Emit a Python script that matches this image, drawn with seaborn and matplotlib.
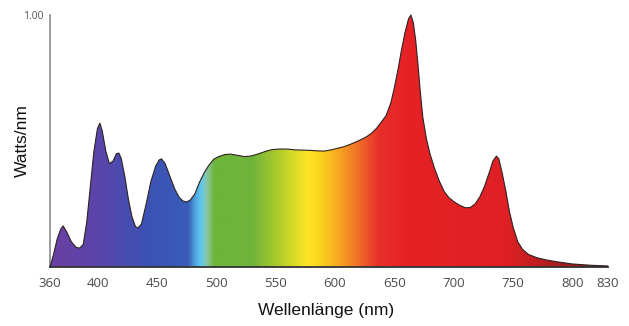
import numpy as np
import pandas as pd
import matplotlib
matplotlib.use("Agg")
import matplotlib.pyplot as plt
import seaborn as sns
from matplotlib.colors import LinearSegmentedColormap

# Relative spectral power of the lamp (normalised to the 664 nm peak)
wavelength_nm = [360, 363, 366, 369, 371, 374, 378, 382, 385, 388, 391, 394, 397, 400,
                 402, 404, 407, 410, 413, 416, 418, 420, 423, 426, 429, 432, 434, 437,
                 441, 445, 449, 452, 454, 457, 461, 465, 469, 472, 475, 478, 482, 486,
                 490, 494, 498, 502, 507, 512, 518, 524, 529, 535, 541, 547, 553, 560,
                 566, 572, 578, 585, 591, 597, 603, 608, 613, 618, 623, 627, 631, 635,
                 639, 643, 647, 650, 653, 656, 659, 662, 664, 666, 668, 670, 672, 674,
                 677, 680, 684, 688, 692, 696, 700, 705, 710, 714, 718, 722, 726, 730,
                 733, 736, 738, 741, 744, 747, 750, 754, 758, 763, 770, 778, 788, 800,
                 815, 830]
power = [0.0, 0.05, 0.11, 0.15, 0.163, 0.14, 0.10, 0.078, 0.075, 0.09, 0.18, 0.32, 0.46, 0.55,
         0.571, 0.54, 0.46, 0.41, 0.42, 0.45, 0.452, 0.43, 0.36, 0.27, 0.20, 0.16, 0.155, 0.17,
         0.25, 0.34, 0.40, 0.425, 0.429, 0.41, 0.36, 0.31, 0.275, 0.262, 0.258, 0.265, 0.29, 0.337,
         0.375, 0.405, 0.428, 0.438, 0.446, 0.448, 0.443, 0.438, 0.44, 0.448, 0.458, 0.466, 0.468, 0.468,
         0.465, 0.464, 0.463, 0.461, 0.460, 0.465, 0.472, 0.478, 0.487, 0.497, 0.508, 0.518, 0.532, 0.55,
         0.575, 0.60, 0.65, 0.71, 0.78, 0.86, 0.93, 0.985, 1.0, 0.97, 0.90, 0.80, 0.69, 0.595,
         0.51, 0.45, 0.39, 0.34, 0.30, 0.275, 0.26, 0.245, 0.235, 0.236, 0.25, 0.278, 0.32, 0.375,
         0.42, 0.44, 0.43, 0.37, 0.30, 0.22, 0.16, 0.10, 0.07, 0.05, 0.037, 0.028, 0.02, 0.012,
         0.007, 0.004]

x_ticks = [360, 400, 450, 500, 550, 600, 650, 700, 750, 800, 830]
y_ticks = [1.0]
y_tick_labels = ["1.00"]

# Colour of visible light along the wavelength axis
spectrum_nm = [360, 400, 440, 476, 482, 487, 492, 498, 530, 550, 565, 577, 586, 604,
               620, 637, 660, 745, 790, 830]
spectrum_colors = ["#6b3fa3", "#5a44aa", "#3d52b4", "#3a5cb8", "#4fa8e0", "#62c8ef",
                   "#8cc6a0", "#6cb43a", "#6fb43a", "#a8c82d", "#d6da25", "#ffe526",
                   "#fbd71e", "#f7a520", "#f06e28", "#e8302a", "#e52226", "#de2024",
                   "#a81c1c", "#8e1a1a"]

sns.set_theme(style="white")
plt.rcParams["font.family"] = ["Liberation Sans", "DejaVu Sans"]

fig = plt.figure(figsize=(6.29, 3.26), dpi=100)
ax = fig.add_axes([50 / 629, 1 - 267 / 326, 558 / 629, 252 / 326])

df = pd.DataFrame({"nm": wavelength_nm, "power": power})

# Area under the curve, filled with a rainbow gradient clipped to the curve
area = ax.fill_between(df["nm"], 0, df["power"], facecolor="none", edgecolor="none")
lo, hi = spectrum_nm[0], spectrum_nm[-1]
cmap = LinearSegmentedColormap.from_list(
    "spectrum", [((n - lo) / (hi - lo), c) for n, c in zip(spectrum_nm, spectrum_colors)])
gradient = np.linspace(0, 1, 1200).reshape(1, -1)
img = ax.imshow(gradient, extent=[lo, hi, 0, 1], aspect="auto", cmap=cmap,
                origin="lower", zorder=1, interpolation="bilinear")
img.set_clip_path(area.get_paths()[0], transform=ax.transData)

sns.lineplot(data=df, x="nm", y="power", ax=ax, color="#2e2222", lw=0.8, zorder=3)
ax.lines[-1].set_clip_on(False)

ax.set_xlim(360, 830)
ax.set_ylim(0, 1.0)

ax.set_xticks(x_ticks, labels=[str(t) for t in x_ticks], fontfamily="Open Sans",
              fontsize=9.5, color="#4a4a4a")
ax.set_yticks(y_ticks, labels=y_tick_labels, fontfamily="Open Sans",
              fontsize=7.5, color="#555555")
ax.tick_params(axis="x", direction="out", length=3, width=0.8, color="#888888", pad=4)
ax.tick_params(axis="y", direction="out", length=3, width=0.8, color="#888888", pad=2)

for side in ("top", "right"):
    ax.spines[side].set_visible(False)
ax.spines["left"].set_color("#8a8a8a")
ax.spines["left"].set_linewidth(1.2)
ax.spines["bottom"].set_color("#333333")
ax.spines["bottom"].set_linewidth(1.3)

ax.set_xlabel("Wellenlänge (nm)", fontsize=12.5, color="#111111")
ax.set_ylabel("Watts/nm", fontsize=12.5, color="#111111")
ax.xaxis.set_label_coords(0.495, -0.143)
ax.yaxis.set_label_coords(-0.036, 0.5)

fig.savefig("out.png", dpi=100)
